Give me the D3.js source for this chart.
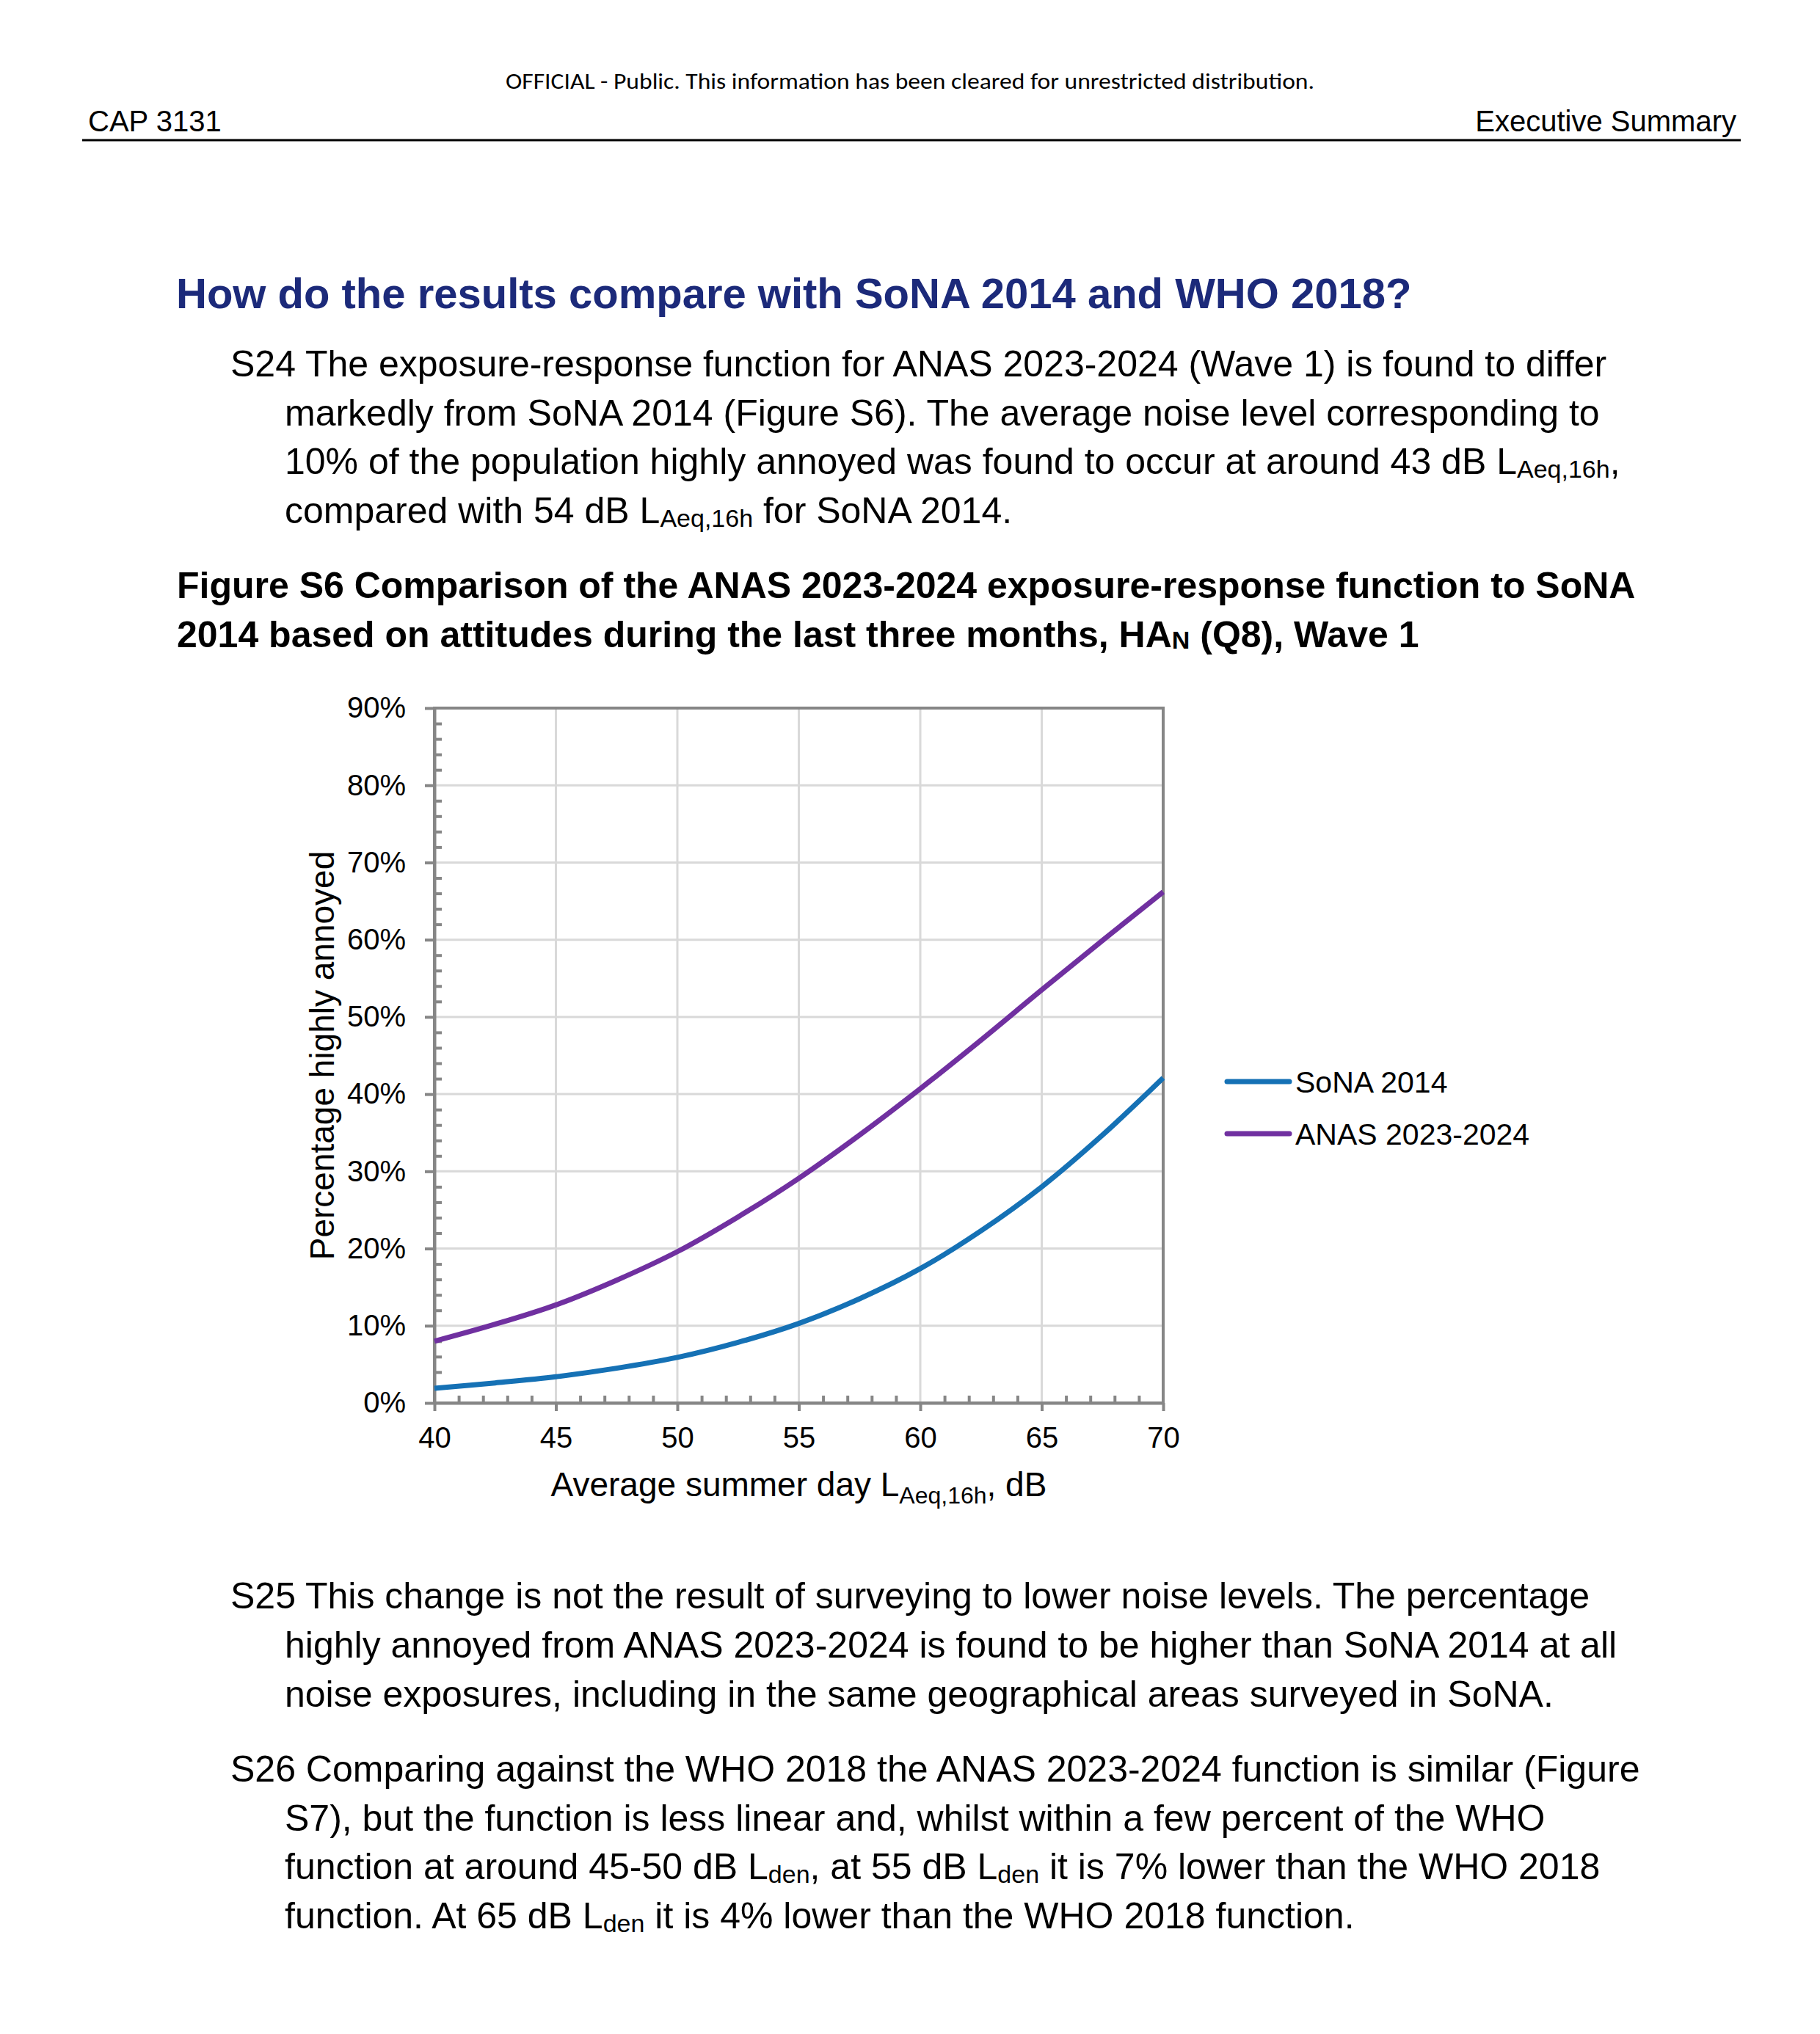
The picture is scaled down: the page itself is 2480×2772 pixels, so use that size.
<!DOCTYPE html>
<html>
<head>
<meta charset="utf-8">
<script src="https://cdn.jsdelivr.net/npm/d3@7"></script>
<style>
  html, body { margin: 0; padding: 0; background: #fff; }
  svg { display: block; font-family: "Liberation Sans", Arial, sans-serif; }
</style>
</head>
<body>
<div id="page"></div>
<script>
// chart data
const xValues = [40, 42.5, 45, 47.5, 50, 52.5, 55, 57.5, 60, 62.5, 65, 67.5, 70];
const sona2014 = [1.9, 2.6, 3.4, 4.5, 5.9, 7.85, 10.3, 13.5, 17.4, 22.3, 28.0, 34.7, 42.1];
const anas2023 = [8.0, 10.2, 12.7, 15.9, 19.6, 24.1, 29.1, 34.7, 40.7, 47.0, 53.5, 59.9, 66.2];
const seriesNames = ["SoNA 2014", "ANAS 2023-2024"];
const xTicks = [40, 45, 50, 55, 60, 65, 70];
const yTicks = [0, 10, 20, 30, 40, 50, 60, 70, 80, 90];

const W = 2480, H = 2772;
const svg = d3.select("#page").append("svg").attr("width", W).attr("height", H);

// ---- page header ----
svg.append("text")
  .attr("x", 1240).attr("y", 121)
  .attr("text-anchor", "middle")
  .attr("textLength", 1102).attr("lengthAdjust", "spacingAndGlyphs")
  .style("font-family", "Carlito, 'Liberation Sans Narrow', 'Open Sans', sans-serif")
  .style("font-size", "30px")
  .text("OFFICIAL - Public. This information has been cleared for unrestricted distribution.");

svg.append("text").attr("x", 120).attr("y", 179).style("font-size", "40px").text("CAP 3131");
svg.append("text").attr("x", 2366).attr("y", 179).attr("text-anchor", "end")
  .style("font-size", "40px").text("Executive Summary");
svg.append("line").attr("x1", 112).attr("x2", 2372).attr("y1", 191).attr("y2", 191)
  .attr("stroke", "#000").attr("stroke-width", 3);

svg.append("text").attr("x", 240).attr("y", 420)
  .style("font-size", "58px").style("font-weight", "bold").style("fill", "#1c2a7a")
  .text("How do the results compare with SoNA 2014 and WHO 2018?");

// ---- body text helper: plain strings, or {sub, size, dy} for subscripts ----
function writeLines(x0, x1, y0, step, lines, size, weight) {
  lines.forEach((segs, i) => {
    const t = svg.append("text")
      .attr("x", i === 0 ? x0 : x1)
      .attr("y", y0 + i * step)
      .style("font-size", size + "px")
      .style("font-weight", weight || "normal");
    let shift = 0;
    segs.forEach((s) => {
      if (typeof s === "string") {
        t.append("tspan").attr("dy", -shift).text(s);
        shift = 0;
      } else {
        t.append("tspan").attr("dy", s.dy - shift).style("font-size", s.size + "px").text(s.sub);
        shift = s.dy;
      }
    });
  });
}

const sub = (txt) => ({ sub: txt, size: 34, dy: 5 });

writeLines(314, 388, 513, 66.7, [
  ["S24 The exposure-response function for ANAS 2023-2024 (Wave 1) is found to differ"],
  ["markedly from SoNA 2014 (Figure S6). The average noise level corresponding to"],
  ["10% of the population highly annoyed was found to occur at around 43 dB L", sub("Aeq,16h"), ","],
  ["compared with 54 dB L", sub("Aeq,16h"), " for SoNA 2014."]
], 50);

writeLines(241, 241, 815, 67, [
  ["Figure S6 Comparison of the ANAS 2023-2024 exposure-response function to SoNA"],
  ["2014 based on attitudes during the last three months, HA", { sub: "N", size: 34, dy: 2 }, " (Q8), Wave 1"]
], 50, "bold");

writeLines(314, 388, 2192, 67, [
  ["S25 This change is not the result of surveying to lower noise levels. The percentage"],
  ["highly annoyed from ANAS 2023-2024 is found to be higher than SoNA 2014 at all"],
  ["noise exposures, including in the same geographical areas surveyed in SoNA."]
], 50);

writeLines(314, 388, 2428, 66.7, [
  ["S26 Comparing against the WHO 2018 the ANAS 2023-2024 function is similar (Figure"],
  ["S7), but the function is less linear and, whilst within a few percent of the WHO"],
  ["function at around 45-50 dB L", sub("den"), ", at 55 dB L", sub("den"), " it is 7% lower than the WHO 2018"],
  ["function. At 65 dB L", sub("den"), " it is 4% lower than the WHO 2018 function."]
], 50);

// ---- chart ----
const plot = { left: 592, right: 1585, top: 965, bottom: 1912 };
const x = d3.scaleLinear().domain([40, 70]).range([plot.left, plot.right]);
const y = d3.scaleLinear().domain([0, 90]).range([plot.bottom, plot.top]);

const gridColor = "#d9d9d9";
const axisColor = "#868686";

const chart = svg.append("g");

// gridlines
chart.append("g").selectAll("line")
  .data(xTicks.slice(1, -1))
  .join("line")
  .attr("x1", (d) => x(d)).attr("x2", (d) => x(d))
  .attr("y1", plot.top).attr("y2", plot.bottom)
  .attr("stroke", gridColor).attr("stroke-width", 3);

chart.append("g").selectAll("line")
  .data(yTicks.slice(1, -1))
  .join("line")
  .attr("x1", plot.left).attr("x2", plot.right)
  .attr("y1", (d) => y(d)).attr("y2", (d) => y(d))
  .attr("stroke", gridColor).attr("stroke-width", 3);

// frame (top and right sides)
chart.append("rect")
  .attr("x", plot.left).attr("y", plot.top)
  .attr("width", plot.right - plot.left).attr("height", plot.bottom - plot.top)
  .attr("fill", "none").attr("stroke", axisColor).attr("stroke-width", 4);

// minor ticks, pointing into the plot
const yMinor = d3.range(0, 91, 2).filter((v) => v % 10 !== 0);
const xMinor = d3.range(40, 71, 1).filter((v) => v % 5 !== 0);

chart.append("g")
  .attr("transform", `translate(${plot.left},0)`)
  .call(d3.axisRight(y).tickValues(yMinor).tickSize(10).tickSizeOuter(0).tickFormat(""))
  .call((g) => g.select(".domain").remove())
  .call((g) => g.selectAll("line").attr("stroke", axisColor).attr("stroke-width", 4));

chart.append("g")
  .attr("transform", `translate(0,${plot.bottom})`)
  .call(d3.axisTop(x).tickValues(xMinor).tickSize(10).tickSizeOuter(0).tickFormat(""))
  .call((g) => g.select(".domain").remove())
  .call((g) => g.selectAll("line").attr("stroke", axisColor).attr("stroke-width", 4));

// main axes
const yAxis = chart.append("g")
  .attr("transform", `translate(${plot.left},0)`)
  .call(d3.axisLeft(y).tickValues(yTicks).tickSize(13).tickSizeOuter(0).tickPadding(26)
    .tickFormat((d) => d + "%"));

const xAxis = chart.append("g")
  .attr("transform", `translate(0,${plot.bottom})`)
  .call(d3.axisBottom(x).tickValues(xTicks).tickSize(11).tickSizeOuter(0).tickPadding(22));

[yAxis, xAxis].forEach((g) => {
  g.select(".domain").attr("stroke", axisColor).attr("stroke-width", 4);
  g.selectAll(".tick line").attr("stroke", axisColor).attr("stroke-width", 4);
  g.selectAll(".tick text")
    .style("font-family", "'Liberation Sans', Arial, sans-serif")
    .style("font-size", "40px").attr("fill", "#000");
});

// series
const line = d3.line()
  .x((d) => x(d[0]))
  .y((d) => y(d[1]))
  .curve(d3.curveCatmullRom.alpha(0.5));

const series = [
  { name: seriesNames[0], values: sona2014, color: "#1571b5" },
  { name: seriesNames[1], values: anas2023, color: "#7030a0" }
];

chart.append("g").selectAll("path")
  .data(series)
  .join("path")
  .attr("d", (s) => line(xValues.map((v, i) => [v, s.values[i]])))
  .attr("fill", "none")
  .attr("stroke", (s) => s.color)
  .attr("stroke-width", 7)
  .attr("stroke-linejoin", "round");

// axis titles
svg.append("text")
  .attr("transform", `translate(455,${(plot.top + plot.bottom) / 2}) rotate(-90)`)
  .attr("text-anchor", "middle")
  .style("font-size", "46px")
  .text("Percentage highly annoyed");

const xt = svg.append("text")
  .attr("x", (plot.left + plot.right) / 2)
  .attr("y", 2039)
  .attr("text-anchor", "middle")
  .style("font-size", "46px");
xt.append("tspan").text("Average summer day L");
xt.append("tspan").attr("dy", 10).style("font-size", "32px").text("Aeq,16h");
xt.append("tspan").attr("dy", -10).text(", dB");

// legend
const legend = svg.append("g").attr("transform", "translate(1672,1474)");
const items = legend.selectAll("g")
  .data(series)
  .join("g")
  .attr("transform", (d, i) => `translate(0,${i * 71})`);

items.append("line")
  .attr("x1", 0).attr("x2", 85)
  .attr("stroke", (d) => d.color)
  .attr("stroke-width", 7)
  .attr("stroke-linecap", "round");

items.append("text")
  .attr("x", 93).attr("dy", "0.36em")
  .style("font-size", "41px")
  .text((d) => d.name);
</script>
</body>
</html>
